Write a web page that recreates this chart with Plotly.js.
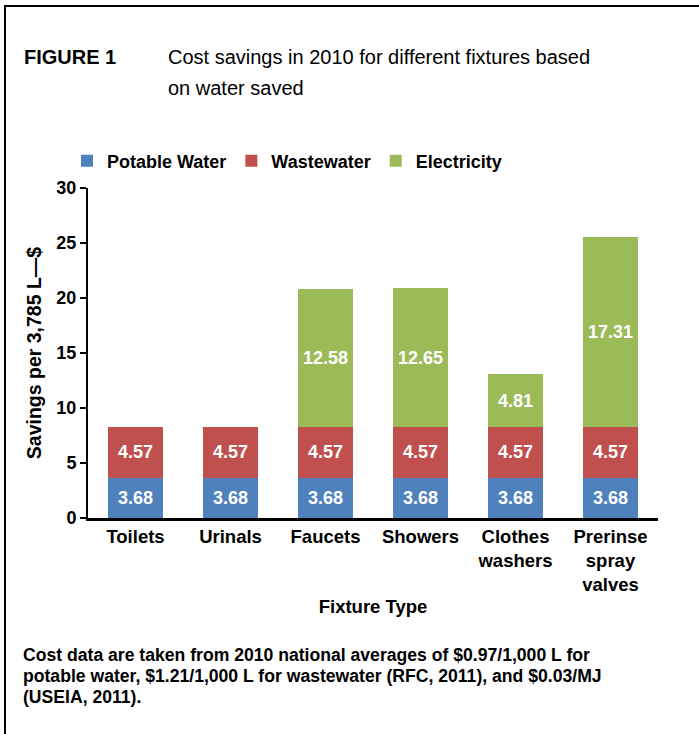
<!DOCTYPE html>
<html>
<head>
<meta charset="utf-8">
<script src="https://cdn.plot.ly/plotly-3.0.1.min.js"></script>
<style>
  html, body { margin: 0; padding: 0; background: #ffffff; }
  #chart { width: 699px; height: 734px; }
</style>
</head>
<body>
<div id="chart"></div>
<script>
// ---- data ----
const categories = ["Toilets", "Urinals", "Faucets", "Showers", "Clothes<br>washers", "Prerinse<br>spray<br>valves"];
const potableWater = [3.68, 3.68, 3.68, 3.68, 3.68, 3.68];
const wastewater = [4.57, 4.57, 4.57, 4.57, 4.57, 4.57];
const electricity = [0, 0, 12.58, 12.65, 4.81, 17.31];
const seriesNames = ["Potable Water", "Wastewater", "Electricity"];
const yTicks = [0, 5, 10, 15, 20, 25, 30];
const footnoteLines = [
  "Cost data are taken from 2010 national averages of $0.97/1,000 L for",
  "potable water, $1.21/1,000 L for wastewater (RFC, 2011), and $0.03/MJ",
  "(USEIA, 2011)."
];

const FONT = "Liberation Sans, Arial, Helvetica, sans-serif";
const colors = ["#4F81BD", "#C0504D", "#9BBB59"];

function labels(arr) { return arr.map(v => v > 0 ? v.toFixed(2) : ""); }

const seriesValues = [potableWater, wastewater, electricity];
const traces = seriesValues.map((vals, i) => ({
  type: "bar",
  name: seriesNames[i],
  x: categories,
  y: vals,
  text: labels(vals),
  textposition: "inside",
  insidetextanchor: "middle",
  textangle: 0,
  constraintext: "none",
  textfont: { family: FONT, size: 18, color: "#ffffff", weight: "bold" },
  marker: { color: colors[i], line: { width: 0 } },
  hoverinfo: "skip"
}));

// plot area in pixels
const L = 88, R = 41, T = 188, B = 216, W = 699, H = 734;
const pw = W - L - R, ph = H - T - B;
const px = x => (x - L) / pw;
const py = y => (H - B - y) / ph;

const footY = [655, 676, 697];
const footAnns = footnoteLines.map((t, i) => ({
  xref: "paper", yref: "paper", x: px(21), y: py(footY[i]), xanchor: "left", yanchor: "middle",
  showarrow: false, align: "left", text: t,
  font: { family: FONT, size: 17.6, weight: "bold", color: "#000000" }
}));

const layout = {
  width: W, height: H,
  margin: { l: L, r: R, t: T, b: B, pad: 0 },
  paper_bgcolor: "#ffffff",
  plot_bgcolor: "#ffffff",
  barmode: "stack",
  bargap: 0.43,
  font: { family: FONT, color: "#000000" },
  showlegend: true,
  legend: {
    orientation: "h",
    x: px(67), y: py(161), xanchor: "left", yanchor: "middle",
    font: { family: FONT, size: 18, weight: "bold", color: "#000000" },
    traceorder: "normal",
    bgcolor: "rgba(0,0,0,0)"
  },
  xaxis: {
    type: "category",
    showline: true, linecolor: "#000000", linewidth: 3,
    ticks: "", showgrid: false, zeroline: false,
    tickfont: { family: FONT, size: 18.5, weight: "bold", color: "#000000" },
    automargin: false,
    title: { text: "Fixture Type", font: { family: FONT, size: 18.5, weight: "bold", color: "#000000" }, standoff: 6 }
  },
  yaxis: {
    range: [0, 30],
    tickvals: yTicks,
    showline: true, linecolor: "#000000", linewidth: 2,
    ticks: "outside", ticklen: 6, tickwidth: 2, tickcolor: "#000000",
    showgrid: false, zeroline: false,
    tickfont: { family: FONT, size: 18, weight: "bold", color: "#000000" },
    automargin: false,
    title: { text: "Savings per 3,785 L\u2014$", font: { family: FONT, size: 19.5, weight: "bold", color: "#000000" }, standoff: 10 }
  },
  annotations: [
    { xref: "paper", yref: "paper", x: px(22), y: py(57), xanchor: "left", yanchor: "middle", showarrow: false,
      text: "FIGURE 1", font: { family: FONT, size: 20, weight: "bold", color: "#000000" } },
    { xref: "paper", yref: "paper", x: px(166), y: py(57), xanchor: "left", yanchor: "middle", showarrow: false,
      text: "Cost savings in 2010 for different fixtures based", font: { family: FONT, size: 20, color: "#000000" } },
    { xref: "paper", yref: "paper", x: px(166), y: py(88), xanchor: "left", yanchor: "middle", showarrow: false,
      text: "on water saved", font: { family: FONT, size: 20, color: "#000000" } }
  ].concat(footAnns),
  shapes: [
    { type: "line", xref: "paper", yref: "paper", x0: px(5), x1: px(5), y0: py(5), y1: py(740), line: { color: "#000000", width: 2 } },
    { type: "line", xref: "paper", yref: "paper", x0: px(4), x1: px(705), y0: py(6), y1: py(6), line: { color: "#000000", width: 2 } }
  ]
};

Plotly.newPlot("chart", traces, layout, { displayModeBar: false, staticPlot: true });
</script>
</body>
</html>
